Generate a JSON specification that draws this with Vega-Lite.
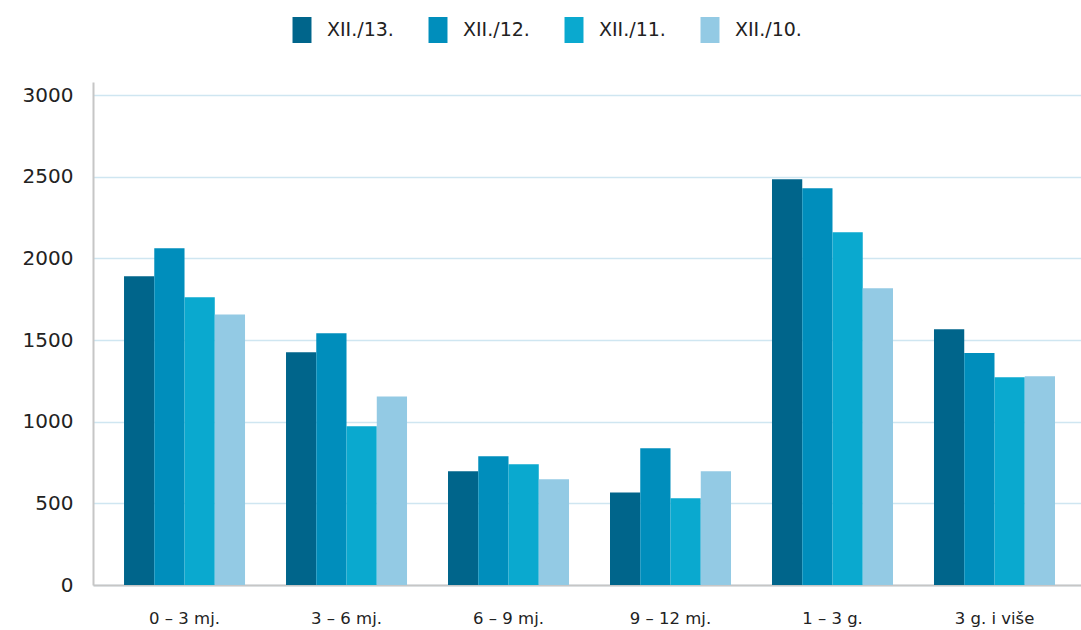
{
  "$schema": "https://vega.github.io/schema/vega-lite/v6.json",
  "width": 988,
  "height": 503,
  "autosize": {"type": "none"},
  "padding": {"left": 93, "top": 82, "right": 0, "bottom": 45},
  "background": "white",
  "data": {
    "values": [
      {"group": "0 – 3 mj.", "series": "XII./13.", "value": 1890},
      {"group": "0 – 3 mj.", "series": "XII./12.", "value": 2062},
      {"group": "0 – 3 mj.", "series": "XII./11.", "value": 1762},
      {"group": "0 – 3 mj.", "series": "XII./10.", "value": 1656},
      {"group": "3 – 6 mj.", "series": "XII./13.", "value": 1425},
      {"group": "3 – 6 mj.", "series": "XII./12.", "value": 1542},
      {"group": "3 – 6 mj.", "series": "XII./11.", "value": 972},
      {"group": "3 – 6 mj.", "series": "XII./10.", "value": 1155},
      {"group": "6 – 9 mj.", "series": "XII./13.", "value": 696},
      {"group": "6 – 9 mj.", "series": "XII./12.", "value": 788},
      {"group": "6 – 9 mj.", "series": "XII./11.", "value": 740},
      {"group": "6 – 9 mj.", "series": "XII./10.", "value": 647},
      {"group": "9 – 12 mj.", "series": "XII./13.", "value": 567},
      {"group": "9 – 12 mj.", "series": "XII./12.", "value": 837},
      {"group": "9 – 12 mj.", "series": "XII./11.", "value": 531},
      {"group": "9 – 12 mj.", "series": "XII./10.", "value": 696},
      {"group": "1 – 3 g.", "series": "XII./13.", "value": 2485},
      {"group": "1 – 3 g.", "series": "XII./12.", "value": 2430},
      {"group": "1 – 3 g.", "series": "XII./11.", "value": 2160},
      {"group": "1 – 3 g.", "series": "XII./10.", "value": 1817},
      {"group": "3 g. i više", "series": "XII./13.", "value": 1566},
      {"group": "3 g. i više", "series": "XII./12.", "value": 1420},
      {"group": "3 g. i više", "series": "XII./11.", "value": 1272},
      {"group": "3 g. i više", "series": "XII./10.", "value": 1278}
    ]
  },
  "mark": {"type": "bar"},
  "encoding": {
    "x": {
      "field": "group",
      "type": "nominal",
      "sort": null,
      "title": null,
      "scale": {"paddingInner": 0.253, "paddingOuter": 0.176, "align": 0.544},
      "axis": {
        "labelAngle": 0,
        "labelFont": "DejaVu Sans",
        "labelFontSize": 16.5,
        "labelColor": "#222222",
        "labelPadding": 25,
        "ticks": false,
        "domainColor": "#c6c6c6",
        "domainWidth": 2,
        "grid": false
      }
    },
    "xOffset": {
      "field": "series",
      "type": "nominal",
      "sort": ["XII./13.", "XII./12.", "XII./11.", "XII./10."],
      "scale": {"paddingInner": 0, "paddingOuter": 0}
    },
    "y": {
      "field": "value",
      "type": "quantitative",
      "title": null,
      "scale": {"domain": [0, 3080], "nice": false},
      "axis": {
        "values": [0, 500, 1000, 1500, 2000, 2500, 3000],
        "format": "d",
        "labelFont": "DejaVu Sans",
        "labelFontSize": 20,
        "labelColor": "#222222",
        "labelPadding": 20,
        "ticks": false,
        "domainColor": "#c6c6c6",
        "domainWidth": 2,
        "gridColor": "#cfe6f1",
        "gridWidth": 1.5
      }
    },
    "color": {
      "field": "series",
      "type": "nominal",
      "title": null,
      "scale": {
        "domain": ["XII./13.", "XII./12.", "XII./11.", "XII./10."],
        "range": ["#00658b", "#008ebc", "#0aa9cf", "#93cae4"]
      },
      "legend": {
        "orient": "none",
        "legendX": 196,
        "legendY": -65,
        "direction": "horizontal",
        "columns": 4,
        "gridAlign": "all",
        "padding": 0,
        "columnPadding": 31,
        "symbolType": "M-0.73,-1L0.73,-1L0.73,1L-0.73,1Z",
        "symbolSize": 676,
        "symbolStrokeWidth": 0,
        "symbolOpacity": 1,
        "labelFont": "DejaVu Sans",
        "labelFontSize": 19,
        "labelColor": "#222222",
        "labelOffset": 12
      }
    }
  },
  "config": {
    "view": {"stroke": null}
  }
}
